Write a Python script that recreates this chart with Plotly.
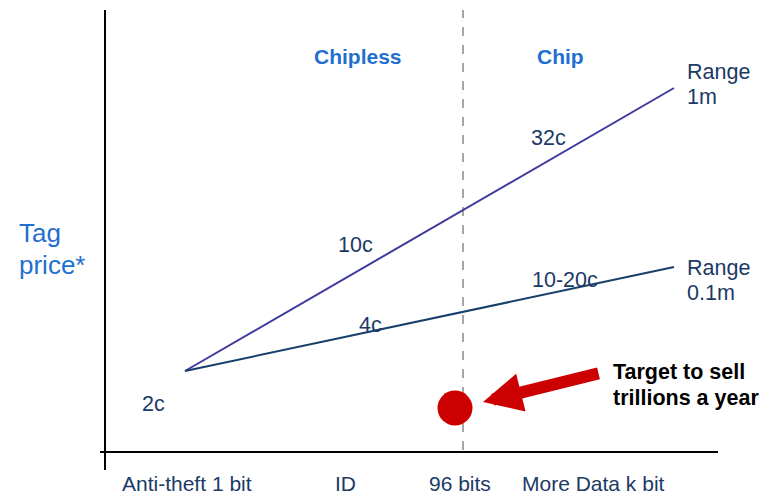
import plotly.graph_objects as go

# Conceptual chart units (origin at axis crossing)
data_axis = [80, 569]            # anti-theft 1 bit -> more data k bit
price_range_1m = [81, 364]       # 2c -> beyond 32c
price_range_01m = [81, 185]      # 2c -> 10-20c
target_x = [350]
target_y = [44]
split_x = 358                    # 96 bits boundary

x_labels = ["Anti-theft 1 bit", "ID", "96 bits", "More Data k bit"]
x_label_pos = [81.5, 240, 354.5, 488.5]

NAVY = "#1b3a66"
BLUE = "#1f6fd0"
FONT = "Liberation Sans, Arial, sans-serif"

fig = go.Figure()
fig.add_trace(go.Scatter(x=data_axis, y=price_range_1m, mode="lines",
                         line=dict(color="#3f3a9e", width=2), hoverinfo="skip"))
fig.add_trace(go.Scatter(x=data_axis, y=price_range_01m, mode="lines",
                         line=dict(color="#163f6c", width=2), hoverinfo="skip"))
fig.add_trace(go.Scatter(x=target_x, y=target_y, mode="markers",
                         marker=dict(color="#cc0000", size=35, line=dict(width=0)),
                         hoverinfo="skip"))

shapes = [
    dict(type="line", x0=0, x1=0, y0=-18, y1=442, line=dict(color="black", width=2)),
    dict(type="line", x0=-5, x1=613, y0=0, y1=0, line=dict(color="black", width=2)),
    dict(type="line", x0=split_x, x1=split_x, y0=2, y1=442, layer="below",
         line=dict(color="#a6a6a6", width=2, dash="dash")),
]

ann = []
def txt(x, y, s, color=NAVY, size=21.5, bold=False, xanchor="center", yanchor="middle"):
    ann.append(dict(x=x, y=y, text=(f"<b>{s}</b>" if bold else s), showarrow=False,
                    xanchor=xanchor, yanchor=yanchor, borderpad=0,
                    font=dict(color=color, size=size, family=FONT)))

txt(253, 396, "Chipless", BLUE, 21, True)
txt(455, 396, "Chip", BLUE, 21, True)
txt(581, 380, "Range", xanchor="left")
txt(581, 355, "1m", xanchor="left")
txt(581, 184, "Range", xanchor="left")
txt(581, 159, "0.1m", xanchor="left")
txt(443, 314, "32c")
txt(250, 207, "10c")
txt(460, 172, "10-20c")
txt(265, 127, "4c")
txt(48, 48, "2c")
txt(-65, 219, "Tag", BLUE, 26)
txt(-53, 187, "price*", BLUE, 26)
txt(507, 80, "Target to sell", "black", 21.5, True, xanchor="left")
txt(507, 54, "trillions a year", "black", 21.5, True, xanchor="left")
for lab, xp in zip(x_labels, x_label_pos):
    txt(xp, -43.5, lab, size=21, yanchor="bottom")

ann.append(dict(x=378, y=50, ax=495, ay=79, xref="x", yref="y", axref="x", ayref="y",
                showarrow=True, arrowhead=2, arrowsize=0.65, arrowwidth=12,
                arrowcolor="#cc0000", text=""))

fig.update_layout(
    width=763, height=496, margin=dict(l=0, r=0, t=0, b=0),
    paper_bgcolor="white", plot_bgcolor="white", showlegend=False,
    xaxis=dict(range=[-105, 658], visible=False, fixedrange=True),
    yaxis=dict(range=[-44, 452], visible=False, fixedrange=True),
    shapes=shapes, annotations=ann,
)
fig.write_html("out.html")
